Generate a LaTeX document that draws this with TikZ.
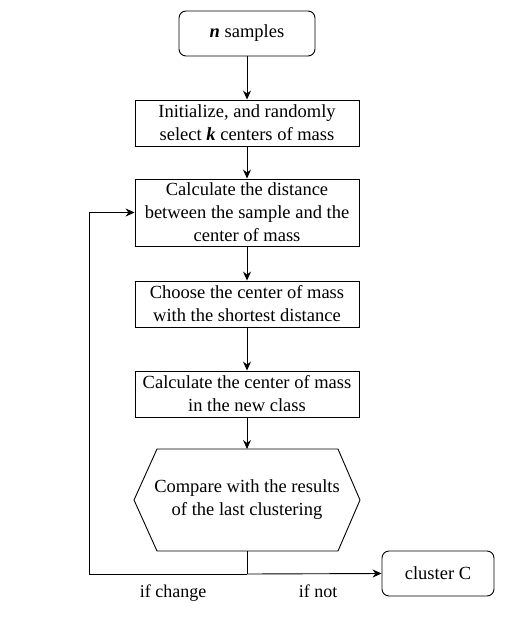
\documentclass[tikz,border=0pt]{standalone}
\usepackage{fontspec}
\setmainfont{Liberation Serif}
\usetikzlibrary{shapes.geometric,arrows.meta}
\begin{document}
\begin{tikzpicture}[x=1pt,y=-1pt,
  every node/.style={font=\fontsize{18.5}{23}\selectfont, align=center, inner sep=0pt},
  proc/.style={draw, line width=0.9pt, minimum width=224pt},
  term/.style={draw, line width=0.9pt, rounded corners=7pt},
  conn/.style={line width=0.9pt, -{Stealth[length=9pt,width=8pt]}},
  lbl/.style={font=\fontsize{18}{20}\selectfont, anchor=base}]
\useasboundingbox (0,0) rectangle (513,627);
\node[term, minimum width=136pt, minimum height=45pt] (n) at (247,33.5) {\textbf{\textit{n}} samples};
\node[proc, minimum height=46pt] (init) at (247,123) {Initialize, and randomly\\select \textbf{\textit{k}} centers of mass};
\node[proc, minimum height=67pt] (dist) at (247,212.5) {Calculate the distance\\between the sample and the\\center of mass};
\node[proc, minimum height=46pt] (choose) at (247,304) {Choose the center of mass\\with the shortest distance};
\node[proc, minimum height=46pt] (newc) at (247,394) {Calculate the center of mass\\in the new class};
\draw[line width=0.9pt] (157,449) -- (338,449) -- (360,500) -- (338,551) -- (157,551) -- (134,500) -- cycle;
\node (cmp) at (247,500) {Compare with the results\\of the last clustering};
\coordinate (cmpt) at (247,449);
\coordinate (cmpb) at (247,551);
\node[term, minimum width=112pt, minimum height=45pt] (clu) at (438,573.5) {cluster C};
\coordinate (j) at (247,574);
\coordinate (bl) at (89,574);
\coordinate (tl) at (89,212.5);
\draw[conn] (n) -- (init);
\draw[conn] (init) -- (dist);
\draw[conn] (dist) -- (choose);
\draw[conn] (choose) -- (newc);
\draw[conn] (newc.south) -- (cmpt);
\draw[line width=0.9pt] (cmpb) -- (j);
\draw[conn] (j) -- (clu.west);
\draw[conn] (j) -- (bl) -- (tl) -- (dist.west);
\node[lbl] (lc) at (173,597) {if change};
\node[lbl] (ln) at (318,597) {if not};
\end{tikzpicture}
\end{document}
